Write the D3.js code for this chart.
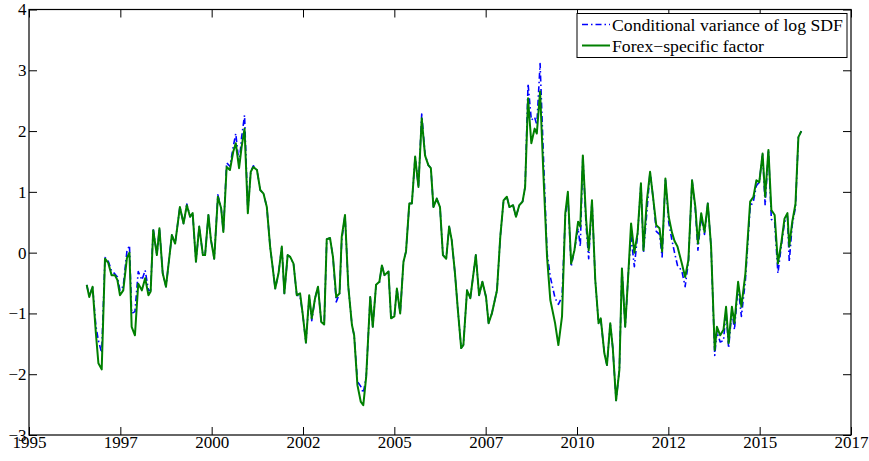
<!DOCTYPE html>
<html>
<head>
<meta charset="utf-8">
<script src="https://cdn.jsdelivr.net/npm/d3@7"></script>
<style>
  html, body { margin: 0; padding: 0; background: #fff; }
  svg { display: block; }
  text { font-family: "Liberation Serif", "DejaVu Serif", serif; font-size: 17px; fill: #000; }
</style>
</head>
<body>
<svg id="chart" width="869" height="461"></svg>
<script>
// Observation dates (decimal years)
const dates = [
  1996.58, 1996.65, 1996.74, 1996.83, 1996.90, 1996.99, 1997.08, 1997.17, 1997.26, 1997.35,
  1997.42, 1997.49, 1997.58, 1997.68, 1997.75, 1997.81, 1997.90, 1997.99, 1998.09, 1998.18,
  1998.27, 1998.33, 1998.40, 1998.50, 1998.57, 1998.66, 1998.75, 1998.91, 1999.00, 1999.13,
  1999.23, 1999.32, 1999.41, 1999.48, 1999.57, 1999.66, 1999.76, 1999.82, 1999.91, 1999.98,
  2000.07, 2000.17, 2000.26, 2000.32, 2000.41, 2000.50, 2000.59, 2000.66, 2000.75, 2000.82,
  2000.90, 2000.99, 2001.07, 2001.14, 2001.24, 2001.33, 2001.42, 2001.51, 2001.60, 2001.74,
  2001.83, 2001.92, 2001.99, 2002.08, 2002.15, 2002.24, 2002.33, 2002.42, 2002.49, 2002.58,
  2002.67, 2002.74, 2002.83, 2002.91, 2003.00, 2003.08, 2003.15, 2003.24, 2003.32, 2003.41,
  2003.50, 2003.56, 2003.65, 2003.74, 2003.84, 2003.90, 2003.99, 2004.08, 2004.15, 2004.23,
  2004.34, 2004.41, 2004.50, 2004.59, 2004.66, 2004.73, 2004.84, 2004.91, 2005.00, 2005.07,
  2005.16, 2005.25, 2005.32, 2005.41, 2005.48, 2005.57, 2005.66, 2005.75, 2005.84, 2005.93,
  2006.00, 2006.07, 2006.16, 2006.25, 2006.33, 2006.42, 2006.50, 2006.57, 2006.66, 2006.74,
  2006.83, 2006.89, 2006.99, 2007.08, 2007.23, 2007.32, 2007.41, 2007.51, 2007.58, 2007.67,
  2007.81, 2007.90, 2007.99, 2008.08, 2008.15, 2008.25, 2008.33, 2008.42, 2008.51, 2008.58,
  2008.66, 2008.75, 2008.84, 2008.90, 2008.99, 2009.08, 2009.18, 2009.27, 2009.40, 2009.49,
  2009.59, 2009.68, 2009.75, 2009.84, 2009.93, 2010.03, 2010.09, 2010.16, 2010.25, 2010.32,
  2010.41, 2010.50, 2010.59, 2010.65, 2010.75, 2010.82, 2010.91, 2010.98, 2011.07, 2011.16,
  2011.23, 2011.32, 2011.41, 2011.48, 2011.57, 2011.66, 2011.75, 2011.82, 2011.91, 2012.00,
  2012.08, 2012.17, 2012.26, 2012.33, 2012.42, 2012.51, 2012.60, 2012.67, 2012.75, 2012.87,
  2012.96, 2013.05, 2013.15, 2013.24, 2013.31, 2013.40, 2013.49, 2013.58, 2013.67, 2013.77,
  2013.83, 2013.92, 2014.01, 2014.08, 2014.15, 2014.24, 2014.31, 2014.41, 2014.50, 2014.61,
  2014.74, 2014.83, 2014.91, 2014.99, 2015.08, 2015.15, 2015.24, 2015.32, 2015.41, 2015.50,
  2015.59, 2015.68, 2015.76, 2015.81, 2015.89, 2015.98, 2016.06, 2016.14
];

// Forex-specific factor
const forexFactor = [
  -0.53, -0.73, -0.56, -1.32, -1.82, -1.92, -0.10, -0.17, -0.37, -0.37,
  -0.45, -0.70, -0.62, -0.09, 0.00, -1.22, -1.36, -0.51, -0.62, -0.42,
  -0.70, -0.64, 0.37, -0.04, 0.40, -0.34, -0.56, 0.29, 0.15, 0.75,
  0.48, 0.78, 0.59, 0.65, -0.15, 0.43, -0.04, -0.04, 0.62, 0.21,
  -0.10, 0.92, 0.73, 0.34, 1.41, 1.36, 1.66, 1.80, 1.39, 1.74,
  2.04, 0.65, 1.33, 1.41, 1.36, 1.03, 0.97, 0.75, 0.10, -0.59,
  -0.34, 0.10, -0.67, -0.04, -0.07, -0.18, -0.70, -0.67, -1.00, -1.48,
  -0.70, -1.08, -0.75, -0.56, -1.14, -1.18, 0.22, 0.24, -0.07, -0.73,
  -0.67, 0.26, 0.62, -0.56, -1.19, -1.36, -2.18, -2.45, -2.51, -2.04,
  -0.73, -1.22, -0.53, -0.48, -0.21, -0.37, -0.31, -1.08, -1.05, -0.59,
  -1.00, -0.15, 0.02, 0.81, 0.81, 1.58, 1.08, 2.21, 1.60, 1.44,
  1.39, 0.75, 0.89, 0.75, -0.04, -0.10, 0.43, 0.21, -0.34, -0.95,
  -1.57, -1.52, -0.62, -0.75, -0.04, -0.70, -0.48, -0.73, -1.16, -1.00,
  -0.62, 0.26, 0.86, 0.92, 0.75, 0.78, 0.59, 0.78, 0.84, 1.08,
  2.54, 1.80, 2.04, 1.96, 2.65, 1.30, -0.07, -0.78, -1.16, -1.52,
  -1.05, 0.65, 1.00, -0.18, 0.04, 0.51, 0.43, 1.60, 0.54, 0.04,
  0.86, -0.45, -1.16, -1.08, -1.66, -1.85, -1.16, -1.57, -2.43, -1.93,
  -0.26, -1.22, -0.29, 0.48, 0.00, 0.33, 1.14, 0.04, 0.84, 1.33,
  0.92, 0.45, 0.40, 0.02, 1.22, 0.59, 0.33, 0.19, 0.10, -0.18,
  -0.40, -0.12, 1.19, 0.75, 0.15, 0.65, 0.34, 0.81, 0.10, -1.60,
  -1.22, -1.36, -1.27, -0.89, -1.49, -0.89, -1.16, -0.48, -0.89, -0.34,
  0.84, 0.92, 1.19, 1.16, 1.63, 0.92, 1.69, 0.70, 0.62, -0.18,
  0.15, 0.56, 0.65, 0.10, 0.50, 0.80, 1.90, 2.00
];

// Conditional variance of log SDF
const sdfVariance = [
  -0.53, -0.72, -0.56, -1.20, -1.45, -1.65, -0.08, -0.14, -0.30, -0.35,
  -0.40, -0.62, -0.55, 0.02, 0.12, -1.00, -0.97, -0.31, -0.45, -0.29,
  -0.62, -0.62, 0.40, -0.04, 0.40, -0.34, -0.56, 0.29, 0.15, 0.75,
  0.48, 0.80, 0.59, 0.65, -0.15, 0.43, -0.04, -0.04, 0.62, 0.21,
  -0.10, 0.95, 0.73, 0.34, 1.48, 1.42, 1.74, 1.96, 1.45, 1.90,
  2.26, 0.68, 1.33, 1.43, 1.36, 1.03, 0.97, 0.75, 0.10, -0.59,
  -0.34, 0.10, -0.67, -0.04, -0.07, -0.18, -0.70, -0.72, -1.00, -1.48,
  -0.72, -1.12, -0.75, -0.56, -1.14, -1.18, 0.22, 0.24, -0.07, -0.81,
  -0.67, 0.20, 0.62, -0.56, -1.19, -1.36, -2.12, -2.20, -2.31, -2.04,
  -0.73, -1.22, -0.53, -0.50, -0.21, -0.37, -0.31, -1.08, -1.05, -0.59,
  -1.00, -0.15, 0.02, 0.81, 0.81, 1.58, 1.08, 2.28, 1.62, 1.44,
  1.39, 0.75, 0.89, 0.75, -0.04, -0.10, 0.43, 0.21, -0.34, -0.95,
  -1.57, -1.52, -0.62, -0.75, -0.04, -0.70, -0.48, -0.73, -1.16, -1.00,
  -0.62, 0.26, 0.86, 0.92, 0.75, 0.78, 0.59, 0.78, 0.84, 1.08,
  2.78, 2.18, 2.23, 2.10, 3.11, 1.60, 0.00, -0.40, -0.75, -0.85,
  -0.73, 0.60, 0.95, -0.23, 0.04, 0.40, 0.10, 1.60, 0.43, -0.10,
  0.86, -0.45, -1.16, -1.10, -1.66, -1.85, -1.16, -1.57, -2.43, -1.93,
  -0.26, -1.22, -0.29, 0.26, -0.23, 0.30, 1.14, 0.00, 0.65, 1.33,
  0.92, 0.35, 0.30, -0.07, 1.22, 0.50, 0.20, 0.00, -0.21, -0.30,
  -0.56, -0.15, 1.19, 0.70, 0.04, 0.60, 0.30, 0.81, 0.10, -1.69,
  -1.30, -1.47, -1.45, -0.95, -1.57, -0.95, -1.27, -0.55, -1.05, -0.45,
  0.75, 0.85, 1.10, 1.16, 1.63, 0.78, 1.69, 0.55, 0.50, -0.34,
  0.10, 0.50, 0.60, -0.15, 0.45, 0.75, 1.90, 2.00
];

// Axis ticks and labels
const xTicks = [1995, 1997.5, 2000, 2002.5, 2005, 2007.5, 2010, 2012.5, 2015, 2017.5];
const xTickLabels = ["1995", "1997", "2000", "2002", "2005", "2007", "2010", "2012", "2015", "2017"];
const yTicks = [-3, -2, -1, 0, 1, 2, 3, 4];

const seriesNames = ["Conditional variance of log SDF", "Forex\u2212specific factor"];
const seriesColors = ["#0000ff", "#008000"];

const FONT = '"Liberation Serif", "DejaVu Serif", serif';

const svg = d3.select("#chart");
const plot = { left: 29, right: 851, top: 9.5, bottom: 435 };

const x = d3.scaleLinear().domain([1995, 2017.5]).range([plot.left, plot.right]);
const y = d3.scaleLinear().domain([-3, 4]).range([plot.bottom, plot.top]);

const minus = s => s.replace("-", "\u2212");
const tickLen = 8;

// Plot lines
const sdfPts = dates.map((d, i) => [d, sdfVariance[i]]);
const fxPts = dates.map((d, i) => [d, forexFactor[i]]);
const line = d3.line().x(d => x(d[0])).y(d => y(d[1]));

svg.append("path")
  .datum(sdfPts)
  .attr("d", line)
  .attr("fill", "none")
  .attr("stroke", seriesColors[0])
  .attr("stroke-width", 1.6)
  .attr("stroke-dasharray", "6,3,1.5,3")
  .attr("stroke-linejoin", "round");

svg.append("path")
  .datum(fxPts)
  .attr("d", line)
  .attr("fill", "none")
  .attr("stroke", seriesColors[1])
  .attr("stroke-width", 2)
  .attr("stroke-linejoin", "round");

// Axes (ticks pointing inward, box on all sides)
const styleText = g => g.selectAll("text")
  .attr("font-family", FONT).style("font-family", FONT).style("font-size", "17px").attr("fill", "#000");

svg.append("g")
  .attr("font-family", FONT)
  .attr("transform", `translate(0,${plot.bottom})`)
  .call(d3.axisBottom(x).tickValues(xTicks).tickFormat((d, i) => xTickLabels[i]).tickSizeInner(-tickLen).tickSizeOuter(0).tickPadding(0.5))
  .call(g => g.select(".domain").remove())
  .call(styleText);

svg.append("g")
  .attr("transform", `translate(0,${plot.top})`)
  .call(d3.axisTop(x).tickValues(xTicks).tickFormat("").tickSizeInner(-tickLen).tickSizeOuter(0))
  .call(g => g.select(".domain").remove());

svg.append("g")
  .attr("font-family", FONT)
  .attr("transform", `translate(${plot.left},0)`)
  .call(d3.axisLeft(y).tickValues(yTicks).tickFormat(d => minus(String(d))).tickSizeInner(-tickLen).tickSizeOuter(0).tickPadding(2.5))
  .call(g => g.select(".domain").remove())
  .call(styleText);

svg.append("g")
  .attr("transform", `translate(${plot.right},0)`)
  .call(d3.axisRight(y).tickValues(yTicks).tickFormat("").tickSizeInner(-tickLen).tickSizeOuter(0))
  .call(g => g.select(".domain").remove());

svg.selectAll(".tick line").attr("stroke", "#000").attr("stroke-width", 1);

svg.append("rect")
  .attr("x", plot.left).attr("y", plot.top)
  .attr("width", plot.right - plot.left).attr("height", plot.bottom - plot.top)
  .attr("fill", "none").attr("stroke", "#000").attr("stroke-width", 1.2);

// Legend
const lg = svg.append("g").attr("transform", "translate(577,13.5)");
lg.append("rect")
  .attr("width", 270).attr("height", 44)
  .attr("fill", "#fff").attr("stroke", "#000").attr("stroke-width", 1);

seriesNames.forEach((name, i) => {
  const yy = 11 + i * 21;
  lg.append("line")
    .attr("x1", 5).attr("x2", 33).attr("y1", yy).attr("y2", yy)
    .attr("stroke", seriesColors[i])
    .attr("stroke-width", i === 0 ? 1.6 : 2)
    .attr("stroke-dasharray", i === 0 ? "6,3,1.5,3" : null);
  lg.append("text")
    .attr("x", 35).attr("y", yy + 6)
    .attr("font-family", FONT)
    .style("font-size", "17.7px")
    .text(name);
});
</script>
</body>
</html>
